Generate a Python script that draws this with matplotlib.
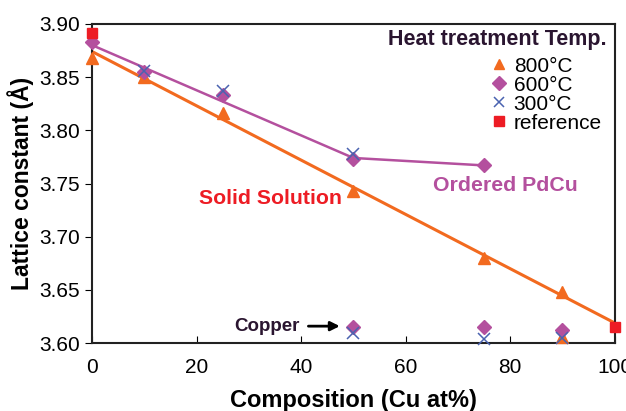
import matplotlib
matplotlib.use('Agg')
import matplotlib.pyplot as plt

plt.rcParams['font.family'] = ['Liberation Sans', 'DejaVu Sans']

# data
x_800 = [0, 10, 25, 50, 75, 90, 90]
y_800 = [3.868, 3.850, 3.816, 3.743, 3.680, 3.648, 3.606]
x_600 = [0, 10, 25, 50, 75, 50, 75, 90]
y_600 = [3.883, 3.855, 3.833, 3.773, 3.767, 3.615, 3.615, 3.612]
x_300 = [10, 25, 50, 50, 75, 90]
y_300 = [3.856, 3.837, 3.778, 3.610, 3.604, 3.605]
x_ref = [0, 100]
y_ref = [3.891, 3.615]

# trend lines
solid_x = [0, 100]
solid_y = [3.874, 3.619]
ordered_x = [0, 50, 75]
ordered_y = [3.880, 3.774, 3.767]

c_orange = '#F26A1F'
c_purple = '#B4509E'
c_blue = '#4A63B0'
c_red = '#ED1C24'
c_dark = '#2A1530'

fig = plt.figure(figsize=(6.26, 4.11), dpi=100)
ax = fig.add_axes([0.147, 0.165, 0.835, 0.777])

ax.plot(solid_x, solid_y, '-', color=c_orange, lw=2.2, zorder=2)
ax.plot(ordered_x, ordered_y, '-', color=c_purple, lw=1.8, zorder=2)

ax.plot(x_800, y_800, '^', color=c_orange, ms=9, ls='none', label='800°C', zorder=3, clip_on=False)
ax.plot(x_600, y_600, 'D', color=c_purple, ms=7.5, ls='none', label='600°C', zorder=4, clip_on=False)
ax.plot(x_300, y_300, 'x', color=c_blue, ms=8.5, mew=1.1, ls='none', label='300°C', zorder=5, clip_on=False)
ax.plot(x_ref, y_ref, 's', color=c_red, ms=7.5, ls='none', label='reference', zorder=6, clip_on=False)

ax.set_xlim(0, 100)
ax.set_ylim(3.60, 3.90)
ax.set_xticks([0, 20, 40, 60, 80, 100])
ax.set_yticks([3.60, 3.65, 3.70, 3.75, 3.80, 3.85, 3.90])
ax.set_yticklabels(['%.2f' % v for v in ax.get_yticks()])
ax.tick_params(axis='x', direction='in', length=5, pad=11, labelsize=15)
ax.tick_params(axis='y', direction='out', length=5, labelsize=15)
for s in ax.spines.values():
    s.set_linewidth(1.5)
    s.set_color('#222222')

ax.set_xlabel('Composition (Cu at%)', fontsize=17, fontweight='bold', labelpad=8)
ax.set_ylabel('Lattice constant (Å)', fontsize=16.5, fontweight='bold', labelpad=4)

ax.text(34.2, 3.736, 'Solid Solution', color=c_red, fontsize=15.3, fontweight='bold', ha='center', va='center')
ax.text(79.0, 3.7486, 'Ordered PdCu', color=c_purple, fontsize=15.3, fontweight='bold', ha='center', va='center')
ax.text(98.5, 3.885, 'Heat treatment Temp.', color=c_dark, fontsize=15.5, fontweight='bold', ha='right', va='center')
ax.annotate('Copper', xy=(47.4, 3.616), xytext=(39.8, 3.616), color=c_dark, fontsize=13.5,
            fontweight='bold', ha='right', va='center',
            arrowprops=dict(arrowstyle='-|>', color='black', lw=2, shrinkA=4, shrinkB=0))

leg = ax.legend(loc='upper left', bbox_to_anchor=(0.735, 0.93), frameon=False,
                handletextpad=0.1, labelspacing=0.0, handlelength=1.2,
                prop={'size': 15}, borderpad=0)
for h in leg.legend_handles:
    h.set_markersize(7)

fig.savefig('out.png', dpi=100)
